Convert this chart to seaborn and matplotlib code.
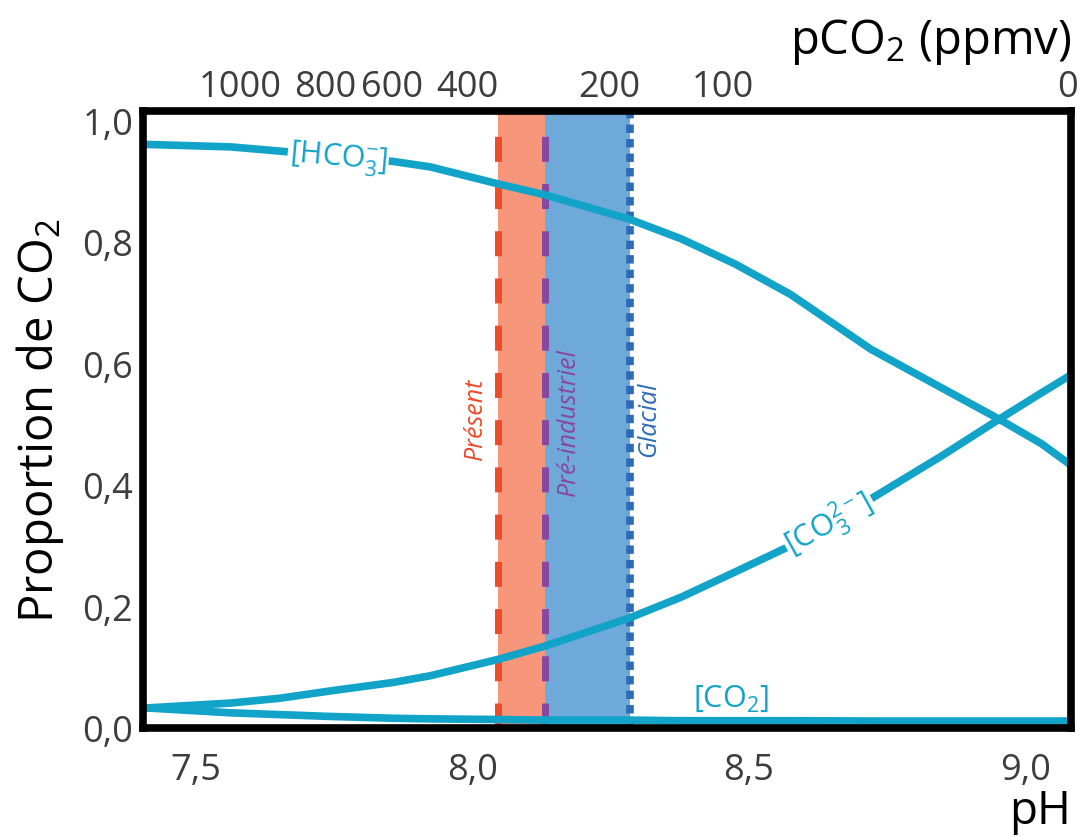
import pandas as pd
import matplotlib
matplotlib.use("Agg")
import matplotlib.pyplot as plt
import seaborn as sns

# values
ph = [7.411, 7.562, 7.652, 7.743, 7.857, 7.924, 8.047, 8.132, 8.284, 8.377,
      8.476, 8.576, 8.721, 8.848, 8.953, 9.029, 9.085]
hco3 = [0.960, 0.956, 0.949, 0.941, 0.932, 0.923, 0.895, 0.877, 0.837, 0.805,
        0.763, 0.713, 0.623, 0.560, 0.508, 0.468, 0.431]
co3 = [0.033, 0.041, 0.049, 0.061, 0.075, 0.086, 0.113, 0.135, 0.181, 0.215,
       0.257, 0.300, 0.377, 0.447, 0.508, 0.551, 0.582]
co2 = [0.033, 0.025, 0.022, 0.019, 0.016, 0.015, 0.014, 0.013, 0.013, 0.012,
       0.012, 0.012, 0.0115, 0.0115, 0.0115, 0.0115, 0.0115]

ph_present = 8.047
ph_preind = 8.132
ph_glacial = 8.286

x_ticks = [7.5, 8.0, 8.5, 9.0]
x_ticklabels = ["7,5", "8,0", "8,5", "9,0"]
y_ticks = [0.0, 0.2, 0.4, 0.6, 0.8, 1.0]
y_ticklabels = ["0,0", "0,2", "0,4", "0,6", "0,8", "1,0"]
pco2_ticks = [7.580, 7.734, 7.855, 7.991, 8.248, 8.453, 9.077]
pco2_labels = ["1000", "800", "600", "400", "200", "100", "0"]

CURVE = "#12a3c9"
GREY = "#3d3d3d"

sns.set_theme(style="white")
plt.rcParams["font.family"] = ["Open Sans", "DejaVu Sans"]
plt.rcParams["mathtext.fontset"] = "custom"
plt.rcParams["mathtext.rm"] = "Open Sans"
plt.rcParams["mathtext.it"] = "Open Sans:italic"
plt.rcParams["mathtext.bf"] = "Open Sans:bold"

df = pd.DataFrame({"pH": ph, "HCO3": hco3, "CO3": co3, "CO2": co2})

fig = plt.figure(figsize=(10.84, 8.37), dpi=100)
ax = fig.add_axes([143 / 1084, 1 - 729 / 837, (1071 - 143) / 1084, (729 - 112) / 837])

# climate periods
ax.axvspan(ph_present, ph_preind, color="#f6977c", lw=0, zorder=1)
ax.axvspan(ph_preind, ph_glacial, color="#6fa9da", lw=0, zorder=1)
ax.axvline(ph_present, color="#ee4b2b", lw=5, dashes=(3.6, 3.2), zorder=2)
ax.axvline(ph_preind, color="#87489f", lw=5, dashes=(3.6, 3.2), zorder=2)
ax.axvline(ph_glacial, color="#2c6bb8", lw=5.5, dashes=(1.1, 0.8), zorder=2)

for col in ["HCO3", "CO3", "CO2"]:
    sns.lineplot(data=df, x="pH", y=col, color=CURVE, lw=5.5, ax=ax, zorder=3)

ax.set_xlim(7.404, 9.083)
ax.set_ylim(0, 1.015)

# curve labels
lab_kw = dict(color=CURVE, fontsize=22, ha="center", va="center", zorder=4)
ax.text(7.757, 0.937, "[HCO$_3^{-}$]", rotation=-5, rotation_mode="anchor",
        bbox=dict(facecolor="white", edgecolor="none", pad=1), **lab_kw)
ax.text(8.645, 0.337, "[CO$_3^{2-}$]", rotation=29, rotation_mode="anchor",
        bbox=dict(facecolor="white", edgecolor="none", pad=1), **lab_kw)
ax.text(8.467, 0.050, "[CO$_2$]", **lab_kw)

per_kw = dict(rotation=90, fontsize=18, style="italic", ha="center", va="center", zorder=4)
ax.text(8.005, 0.51, "Présent", color="#ee4b2b", **per_kw)
ax.text(8.174, 0.505, "Pré-industriel", color="#87489f", **per_kw)
ax.text(8.318, 0.51, "Glacial", color="#2c6bb8", **per_kw)

ax.set_xticks(x_ticks)
ax.set_xticklabels(x_ticklabels, fontsize=26, color=GREY)
ax.set_yticks(y_ticks)
ax.set_yticklabels(y_ticklabels, fontsize=26, color=GREY)
ax.tick_params(axis="x", length=0, pad=17)
ax.tick_params(axis="y", length=0, pad=7)
for sp in ax.spines.values():
    sp.set_visible(True)
    sp.set_color("black")
    sp.set_linewidth(5.5)
    sp.set_zorder(5)

ax.set_xlabel("pH", fontsize=33, color="black", loc="right", labelpad=0)
ax.set_ylabel("Proportion de CO$_2$", fontsize=34, color="black", labelpad=12)

top = ax.twiny()
top.set_xlim(ax.get_xlim())
top.set_xticks(pco2_ticks)
top.set_xticklabels(pco2_labels, fontsize=26, color=GREY)
top.tick_params(axis="x", length=0, pad=4)
for sp in top.spines.values():
    sp.set_visible(False)
top.set_xlabel("pCO$_2$ (ppmv)", fontsize=34, color="black", loc="right", labelpad=12)

fig.savefig("out.png", dpi=100)
plt.close(fig)
